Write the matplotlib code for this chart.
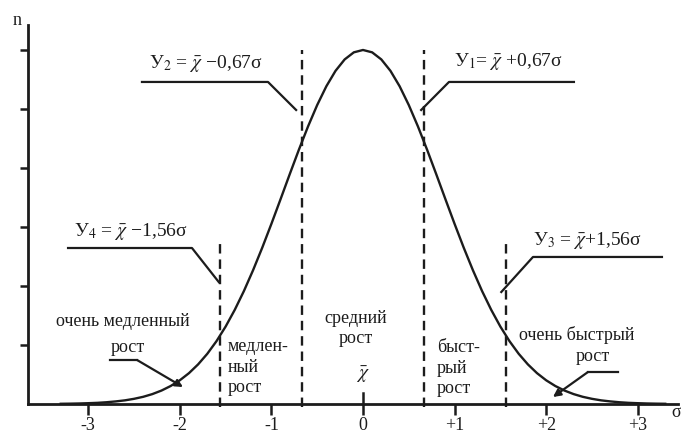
import numpy as np
import matplotlib
matplotlib.use("Agg")
import matplotlib.pyplot as plt

plt.rcParams["font.family"] = ["Liberation Serif", "DejaVu Serif"]
plt.rcParams["mathtext.fontset"] = "stix"

# growth-rate distribution curve, n over sigma
sigma = np.round(np.arange(-3.3, 3.31, 0.1), 1)
n_vals = [0.004, 0.006, 0.009, 0.014, 0.02, 0.03, 0.044, 0.062, 0.088, 0.122,
          0.168, 0.228, 0.305, 0.402, 0.523, 0.672, 0.851, 1.064, 1.312, 1.596,
          1.915, 2.268, 2.649, 3.053, 3.471, 3.894, 4.309, 4.704, 5.067, 5.385,
          5.646, 5.84, 5.96, 6.0, 5.96, 5.84, 5.646, 5.385, 5.067, 4.704,
          4.309, 3.894, 3.471, 3.053, 2.649, 2.268, 1.915, 1.596, 1.312, 1.064,
          0.851, 0.672, 0.523, 0.402, 0.305, 0.228, 0.168, 0.122, 0.088, 0.062,
          0.044, 0.03, 0.02, 0.014, 0.009, 0.006, 0.004]

# class boundaries У4, У2, У1, У3
bounds = [-1.56, -0.67, 0.67, 1.56]
bound_tops = [2.8, 6.0, 6.0, 2.75]
bound_labels = [r"У$_4$ = $\bar{\chi}$ −1,56σ", r"У$_2$ = $\bar{\chi}$ −0,67σ",
                r"У$_1$= $\bar{\chi}$ +0,67σ", r"У$_3$ = $\bar{\chi}$+1,56σ"]

xticks = [-3, -2, -1, 0, 1, 2, 3]
xtick_labels = ["-3", "-2", "-1", "0", "+1", "+2", "+3"]
yticks = [1, 2, 3, 4, 5, 6]

INK = "#1c1c1c"

fig = plt.figure(figsize=(6.81, 4.37), dpi=100)
ax = fig.add_axes([0, 0, 1, 1])
ax.set_xlim(-3.963, 3.472)
ax.set_ylim(-0.559, 6.847)

ax.plot(sigma, n_vals, color=INK, lw=1.7, zorder=3)
ax.vlines(bounds, -0.05, bound_tops, colors=INK, lw=1.7,
          linestyles=(0, (4, 2.5)), zorder=2)

# axes as plain spines
for s in ("top", "right"):
    ax.spines[s].set_visible(False)
ax.spines["left"].set_position(("data", -3.657))
ax.spines["bottom"].set_position(("data", 0))
ax.spines["left"].set_bounds(0, 6.42)
ax.spines["bottom"].set_bounds(-3.657, 3.44)
for s in ("left", "bottom"):
    ax.spines[s].set_linewidth(2.0)
    ax.spines[s].set_color(INK)

ax.set_xticks(xticks, xtick_labels)
ax.set_yticks(yticks, [])
ax.tick_params(axis="x", direction="out", length=8, width=1.8, pad=1.5,
               labelsize=13, colors=INK)
ax.tick_params(axis="y", direction="out", length=6, width=1.8, colors=INK)
ax.plot([0, 0], [0, 0.19], color=INK, lw=1.8)

ax.text(-3.777, 6.5, "n", fontsize=13, ha="center", va="center", color=INK)
ax.text(3.42, -0.15, "σ", fontsize=13, ha="center", va="center", color=INK)

# callouts for the boundaries: text, shelf, slanted leader to the dashed line
lab_kw = dict(fontsize=14, ha="center", va="center", color=INK)
leader_kw = dict(color=INK, lw=1.6)
ax.text(-2.533, 2.92, bound_labels[0], **lab_kw)
ax.plot([-3.22, -1.867, bounds[0] - 0.015], [2.644, 2.644, 2.068], **leader_kw)
ax.text(-1.714, 5.77, bound_labels[1], **lab_kw)
ax.plot([-2.413, -1.037, bounds[1] - 0.06], [5.458, 5.458, 4.983], **leader_kw)
ax.text(1.583, 5.8, bound_labels[2], **lab_kw)
ax.plot([bounds[2] - 0.035, 0.939, 2.303], [4.983, 5.458, 5.458], **leader_kw)
ax.text(2.445, 2.77, bound_labels[3], **lab_kw)
ax.plot([bounds[3] - 0.05, 1.856, 3.264], [1.898, 2.492, 2.492], **leader_kw)

# growth classes
cls_kw = dict(fontsize=13, color=INK, va="center")
ax.text(-2.62, 1.39, "очень медленный", ha="center", **cls_kw)
ax.text(-2.566, 0.966, "рост", ha="center", **cls_kw)
ax.plot([-2.762, -2.467], [0.746, 0.746], **leader_kw)
ax.annotate("", xy=(-1.965, 0.288), xytext=(-2.467, 0.746),
            arrowprops=dict(arrowstyle="-|>", color=INK, lw=1.6,
                            mutation_scale=11, shrinkA=0, shrinkB=0))
ax.text(-1.474, 0.627, "медлен-\nный\nрост", ha="left", multialignment="left",
        linespacing=1.3, **cls_kw)
ax.text(-0.076, 1.28, "средний\nрост", ha="center", multialignment="center",
        linespacing=1.3, **cls_kw)
ax.text(0, 0.5, r"$\bar{\chi}$", ha="center", fontsize=14, color=INK,
        va="center")
ax.text(0.808, 0.61, "быст-\nрый\nрост", ha="left", multialignment="left",
        linespacing=1.3, **cls_kw)
ax.text(2.336, 1.169, "очень быстрый", ha="center", **cls_kw)
ax.text(2.511, 0.797, "рост", ha="center", **cls_kw)
ax.plot([2.784, 2.456], [0.542, 0.542], **leader_kw)
ax.annotate("", xy=(2.074, 0.119), xytext=(2.456, 0.542),
            arrowprops=dict(arrowstyle="-|>", color=INK, lw=1.6,
                            mutation_scale=11, shrinkA=0, shrinkB=0))

fig.savefig("out.png", dpi=100)
